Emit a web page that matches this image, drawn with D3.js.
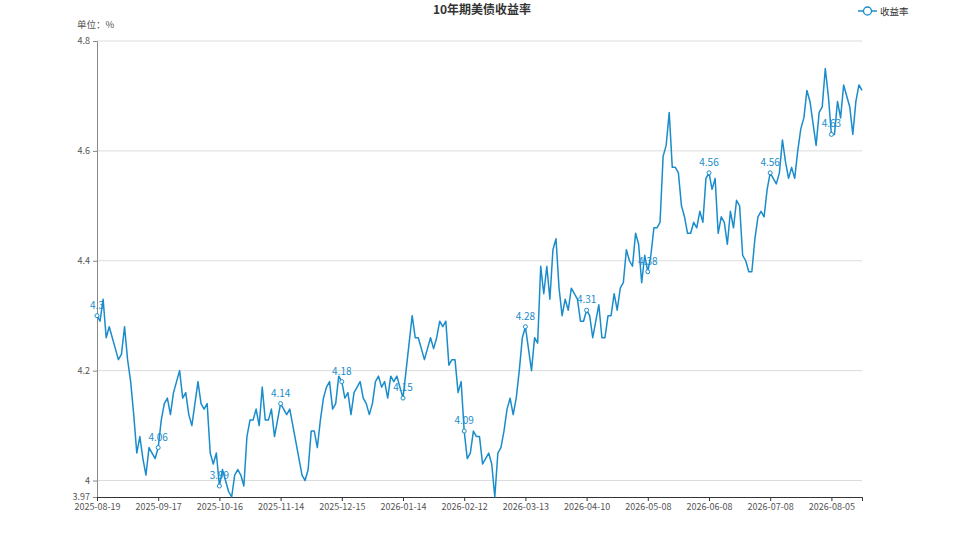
<!DOCTYPE html>
<html>
<head>
<meta charset="utf-8">
<script src="https://cdn.jsdelivr.net/npm/d3@7"></script>
<style>
  body { margin: 0; background: #fff; }
  svg { display: block; font-family: "Microsoft YaHei", "Noto Sans CJK SC", sans-serif; }
</style>
</head>
<body>
<svg id="chart" width="958" height="539"></svg>
<script>
var title = "10年期美债收益率";
var seriesName = "收益率";
var unitLabel = "单位：%";

var dates = [
  "2025-08-19","2025-08-20","2025-08-21","2025-08-22","2025-08-25","2025-08-26","2025-08-27","2025-08-28","2025-08-29",
  "2025-09-02","2025-09-03","2025-09-04","2025-09-05","2025-09-08","2025-09-09","2025-09-10","2025-09-11","2025-09-12","2025-09-15","2025-09-16","2025-09-17","2025-09-18","2025-09-19","2025-09-22","2025-09-23","2025-09-24","2025-09-25","2025-09-26","2025-09-29","2025-09-30",
  "2025-10-01","2025-10-02","2025-10-03","2025-10-06","2025-10-07","2025-10-08","2025-10-09","2025-10-10","2025-10-14","2025-10-15","2025-10-16","2025-10-17","2025-10-20","2025-10-21","2025-10-22","2025-10-23","2025-10-24","2025-10-27","2025-10-28","2025-10-29","2025-10-30","2025-10-31",
  "2025-11-03","2025-11-04","2025-11-05","2025-11-06","2025-11-07","2025-11-10","2025-11-12","2025-11-13","2025-11-14","2025-11-17","2025-11-18","2025-11-19","2025-11-20","2025-11-21","2025-11-24","2025-11-25","2025-11-26","2025-11-28",
  "2025-12-01","2025-12-02","2025-12-03","2025-12-04","2025-12-05","2025-12-08","2025-12-09","2025-12-10","2025-12-11","2025-12-12","2025-12-15","2025-12-16","2025-12-17","2025-12-18","2025-12-19","2025-12-22","2025-12-23","2025-12-24","2025-12-26","2025-12-29","2025-12-30","2025-12-31",
  "2026-01-02","2026-01-05","2026-01-06","2026-01-07","2026-01-08","2026-01-09","2026-01-12","2026-01-13","2026-01-14","2026-01-15","2026-01-16","2026-01-20","2026-01-21","2026-01-22","2026-01-23","2026-01-26","2026-01-27","2026-01-28","2026-01-29","2026-01-30",
  "2026-02-02","2026-02-03","2026-02-04","2026-02-05","2026-02-06","2026-02-09","2026-02-10","2026-02-11","2026-02-12","2026-02-13","2026-02-17","2026-02-18","2026-02-19","2026-02-20","2026-02-23","2026-02-24","2026-02-25","2026-02-26","2026-02-27",
  "2026-03-02","2026-03-03","2026-03-04","2026-03-05","2026-03-06","2026-03-09","2026-03-10","2026-03-11","2026-03-12","2026-03-13","2026-03-16","2026-03-17","2026-03-18","2026-03-19","2026-03-20","2026-03-23","2026-03-24","2026-03-25","2026-03-26","2026-03-27","2026-03-30","2026-03-31",
  "2026-04-01","2026-04-02","2026-04-03","2026-04-06","2026-04-07","2026-04-08","2026-04-09","2026-04-10","2026-04-13","2026-04-14","2026-04-15","2026-04-16","2026-04-17","2026-04-20","2026-04-21","2026-04-22","2026-04-23","2026-04-24","2026-04-27","2026-04-28","2026-04-29","2026-04-30",
  "2026-05-01","2026-05-04","2026-05-05","2026-05-06","2026-05-07","2026-05-08","2026-05-11","2026-05-12","2026-05-13","2026-05-14","2026-05-15","2026-05-18","2026-05-19","2026-05-20","2026-05-21","2026-05-22","2026-05-26","2026-05-27","2026-05-28","2026-05-29",
  "2026-06-01","2026-06-02","2026-06-03","2026-06-04","2026-06-05","2026-06-08","2026-06-09","2026-06-10","2026-06-11","2026-06-12","2026-06-15","2026-06-16","2026-06-17","2026-06-18","2026-06-22","2026-06-23","2026-06-24","2026-06-25","2026-06-26","2026-06-29","2026-06-30",
  "2026-07-01","2026-07-02","2026-07-06","2026-07-07","2026-07-08","2026-07-09","2026-07-10","2026-07-13","2026-07-14","2026-07-15","2026-07-16","2026-07-17","2026-07-20","2026-07-21","2026-07-22","2026-07-23","2026-07-24","2026-07-27","2026-07-28","2026-07-29","2026-07-30","2026-07-31",
  "2026-08-03","2026-08-04","2026-08-05","2026-08-06","2026-08-07","2026-08-10","2026-08-11","2026-08-12","2026-08-13","2026-08-14","2026-08-17","2026-08-18","2026-08-19"
];

var yields = [
  4.30,4.29,4.33,4.26,4.28,4.26,4.24,4.22,4.23,4.28,
  4.22,4.18,4.12,4.05,4.08,4.04,4.01,4.06,4.05,4.04,
  4.06,4.11,4.14,4.15,4.12,4.16,4.18,4.20,4.15,4.16,
  4.12,4.10,
  4.14,4.18,4.14,4.13,4.14,4.05,4.03,4.05,3.99,4.02,
  4.00,3.98,3.97,4.01,4.02,4.01,3.99,4.08,4.11,4.11,
  4.13,4.10,4.17,4.11,4.11,4.13,4.08,4.11,4.14,4.13,
  4.12,4.13,
  4.10,4.07,4.04,4.01,4.00,4.02,4.09,4.09,4.06,4.11,
  4.15,4.17,4.18,4.13,4.14,4.19,4.18,4.15,4.16,4.12,
  4.16,4.17,4.18,4.15,4.14,4.12,4.14,4.18,4.19,4.17,
  4.18,
  4.15,4.19,4.18,4.19,4.17,4.15,4.20,4.25,4.30,4.26,
  4.26,4.24,4.22,4.24,4.26,4.24,4.26,4.29,4.28,4.29,
  4.21,4.22,4.22,4.16,4.18,4.09,4.04,4.05,4.09,4.08,
  4.08,
  4.03,4.04,4.05,4.03,3.97,4.05,4.06,4.09,4.13,4.15,
  4.12,4.15,4.20,4.26,4.28,4.24,4.20,4.26,4.25,4.39,
  4.34,4.39,4.33,4.42,4.44,4.35,4.30,4.33,4.31,4.35,
  4.34,
  4.33,4.29,4.29,4.31,4.30,4.26,4.29,4.32,4.26,4.26,
  4.30,4.30,4.34,4.31,4.35,4.36,4.42,4.40,4.39,4.45,
  4.43,4.36,4.41,4.38,4.41,4.46,4.46,4.47,4.59,4.61,
  4.67,
  4.57,4.57,4.56,4.50,4.48,4.45,4.45,4.47,4.46,4.49,
  4.47,4.55,4.56,4.53,4.55,4.45,4.48,4.47,4.43,4.49,
  4.46,4.51,4.50,4.41,4.40,4.38,4.38,4.44,4.48,4.49,
  4.48,
  4.53,4.56,4.55,4.54,4.56,4.62,4.58,4.55,4.57,4.55,
  4.60,4.64,4.66,4.71,4.69,4.65,4.61,4.67,4.68,4.75,
  4.70,4.63,4.63,4.69,4.66,4.72,4.70,4.68,4.63,4.69,
  4.72,4.71
];

var yTicks = [3.97, 4, 4.2, 4.4, 4.6, 4.8];
var labelStep = 20;

var lineColor = "#1a8ccb";

var svg = d3.select("#chart");
var plotLeft = 97, plotRight = 862, plotTop = 41, plotBottom = 497;

var x = d3.scalePoint().domain(dates).range([plotLeft, plotRight]);
var y = d3.scaleLinear().domain([3.97, 4.8]).range([plotBottom, plotTop]);

// title
svg.append("text")
  .attr("x", 482).attr("y", 14)
  .attr("text-anchor", "middle")
  .attr("font-size", 12).attr("font-weight", "bold")
  .attr("fill", "#333")
  .text(title);

// legend
var lg = svg.append("g").attr("transform", "translate(858,11)");
lg.append("line").attr("x1", 0).attr("x2", 19).attr("y1", 0).attr("y2", 0)
  .attr("stroke", lineColor).attr("stroke-width", 1.5);
lg.append("circle").attr("cx", 9.5).attr("cy", 0).attr("r", 4)
  .attr("fill", "#fff").attr("stroke", lineColor).attr("stroke-width", 1.3);
lg.append("text").attr("x", 22).attr("y", 3.5)
  .attr("font-size", 9.5).attr("fill", "#333").text(seriesName);

// unit
svg.append("text")
  .attr("x", 77).attr("y", 28)
  .attr("font-size", 9.5).attr("fill", "#555")
  .text(unitLabel);

// grid lines
svg.append("g").selectAll("line")
  .data(yTicks.filter(function(d) { return d !== 3.97; }))
  .enter().append("line")
    .attr("x1", plotLeft).attr("x2", plotRight)
    .attr("y1", function(d) { return y(d); })
    .attr("y2", function(d) { return y(d); })
    .attr("stroke", "#dcdcdc").attr("stroke-width", 1);

// y axis
var yAxis = d3.axisLeft(y).tickValues(yTicks).tickSize(4).tickPadding(3)
  .tickFormat(function(d) { return String(d); });
var gy = svg.append("g").attr("transform", "translate(" + plotLeft + ",0)").call(yAxis);
gy.select(".domain").attr("stroke", "#888");
gy.selectAll(".tick line").attr("stroke", "#888");
gy.selectAll("text").attr("font-size", 9).attr("fill", "#555")
  .attr("font-family", "\"Microsoft YaHei\", \"Noto Sans CJK SC\", sans-serif");

// x axis
var xTickValues = dates.filter(function(d, i) { return i % labelStep === 0; });
var xAxis = d3.axisBottom(x).tickValues(xTickValues).tickSize(4).tickPadding(3).tickSizeOuter(4);
var gx = svg.append("g").attr("transform", "translate(0," + plotBottom + ")").call(xAxis);
gx.select(".domain").attr("stroke", "#333");
gx.selectAll(".tick line").attr("stroke", "#333");
gx.selectAll("text").attr("font-size", 9).attr("fill", "#555")
  .attr("font-family", "\"Microsoft YaHei\", \"Noto Sans CJK SC\", sans-serif");

var points = yields.map(function(v, i) { return { date: dates[i], value: v, i: i }; });
var marked = points.filter(function(d) { return d.i % labelStep === 0; });

// data labels (drawn under the line like the original)
svg.append("g").selectAll("text")
  .data(marked)
  .enter().append("text")
    .attr("x", function(d) { return x(d.date); })
    .attr("y", function(d) { return y(d.value) - 7; })
    .attr("text-anchor", "middle")
    .attr("font-size", 10)
    .attr("fill", lineColor)
    .text(function(d) { return String(+d.value); });

// line
var line = d3.line()
  .x(function(d) { return x(d.date); })
  .y(function(d) { return y(d.value); });

svg.append("path")
  .datum(points)
  .attr("d", line)
  .attr("fill", "none")
  .attr("stroke", lineColor)
  .attr("stroke-width", 1.5)
  .attr("stroke-linejoin", "round");

// symbols
svg.append("g").selectAll("circle")
  .data(marked)
  .enter().append("circle")
    .attr("cx", function(d) { return x(d.date); })
    .attr("cy", function(d) { return y(d.value); })
    .attr("r", 2)
    .attr("fill", "#fff")
    .attr("stroke", lineColor)
    .attr("stroke-width", 1);
</script>
</body>
</html>
